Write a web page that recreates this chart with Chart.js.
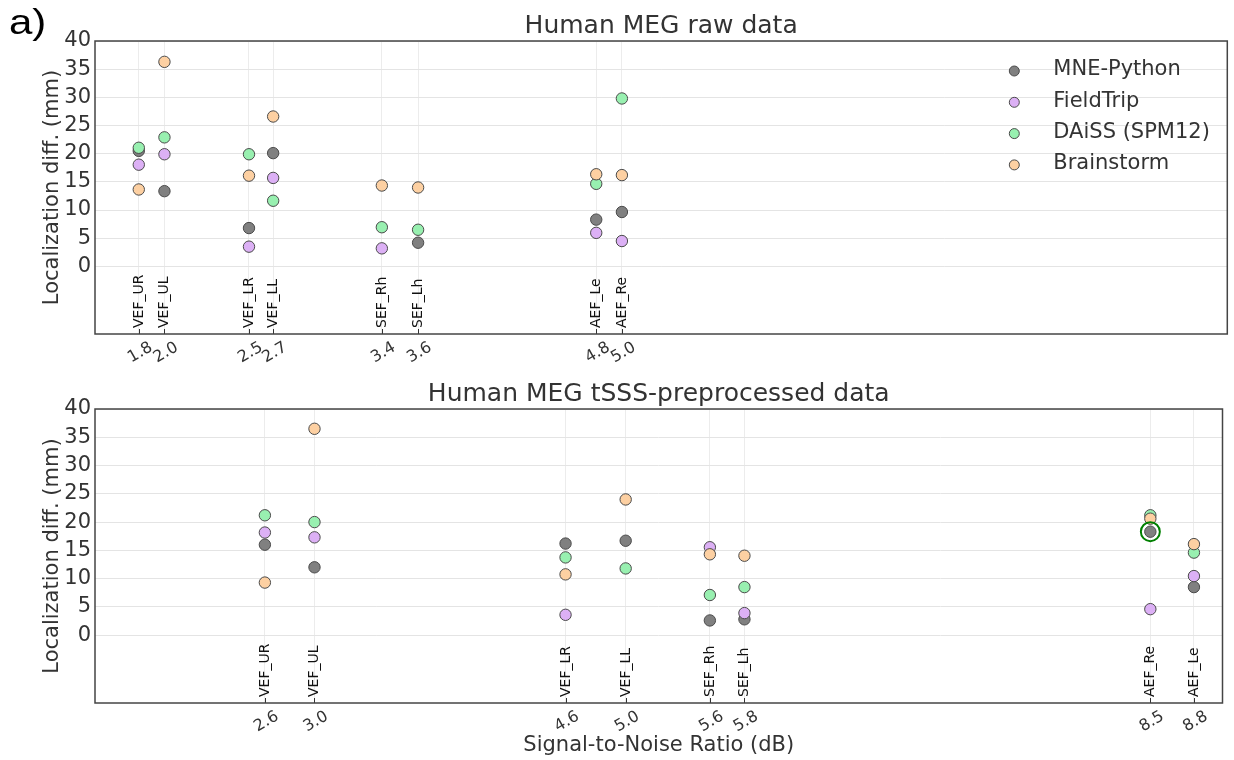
<!DOCTYPE html>
<html>
<head>
<meta charset="utf-8">
<script src="https://cdn.jsdelivr.net/npm/chart.js@4.4.0/dist/chart.umd.min.js"></script>
<style>
  body { margin: 0; background: #fff; }
  #wrap { position: relative; width: 1234px; height: 760px; }
  #panel { position: absolute; left: 9px; top: 4px; font: 35px "Liberation Sans", Arial, sans-serif; line-height: 1; color: #000; transform: scaleX(1.2); transform-origin: left top; }
  canvas { position: absolute; left: 0; }
  #rawChart { top: 0; }
  #tsssChart { top: 375px; }
</style>
</head>
<body>
<div id="wrap">
  <canvas id="rawChart" width="1234" height="375"></canvas>
  <canvas id="tsssChart" width="1234" height="385"></canvas>
  <div id="panel">a)</div>
</div>
<script>
// Méthodes et couleurs
const methods = ["MNE-Python", "FieldTrip", "DAiSS (SPM12)", "Brainstorm"];
const methodColors = ["#808080", "#dcb0f5", "#98f0b0", "#fdd0a2"];
const yTicks = [0, 5, 10, 15, 20, 25, 30, 35, 40];

// Données brutes
const rawConditions = ["VEF_UR", "VEF_UL", "VEF_LR", "VEF_LL", "SEF_Rh", "SEF_Lh", "AEF_Le", "AEF_Re"];
const rawSnr = [1.79, 1.96, 2.52, 2.68, 3.40, 3.64, 4.82, 4.99];
const rawSnrLabels = ["1.8", "2.0", "2.5", "2.7", "3.4", "3.6", "4.8", "5.0"];
const rawMne = [20.5, 13.35, 6.8, 20.1, null, 4.2, 8.3, 9.65];
const rawFieldTrip = [18.05, 19.9, 3.5, 15.7, 3.2, null, 5.95, 4.5];
const rawDaiss = [21.05, 22.9, 19.9, 11.65, 6.95, 6.5, 14.65, 29.8];
const rawBrainstorm = [13.65, 36.3, 16.1, 26.6, 14.35, 14.0, 16.35, 16.2];

// Données tSSS
const tsssConditions = ["VEF_UR", "VEF_UL", "VEF_LR", "VEF_LL", "SEF_Rh", "SEF_Lh", "AEF_Re", "AEF_Le"];
const tsssSnr = [2.63, 2.96, 4.63, 5.03, 5.59, 5.82, 8.52, 8.81];
const tsssSnrLabels = ["2.6", "3.0", "4.6", "5.0", "5.6", "5.8", "8.5", "8.8"];
const tsssMne = [16.0, 12.0, 16.2, 16.7, 2.6, 2.8, 18.3, 8.5];
const tsssFieldTrip = [18.15, 17.3, 3.6, null, 15.55, 3.9, 4.6, 10.45];
const tsssDaiss = [21.2, 20.0, 13.75, 11.8, 7.1, 8.5, 21.2, 14.6];
const tsssBrainstorm = [9.3, 36.5, 10.75, 24.0, 14.3, 14.05, 20.6, 16.1];
const tsssHighlight = 6; // AEF_Re entouré

Chart.defaults.font.family = "DejaVu Sans";
Chart.defaults.color = "#333";

function makeDatasets(snr, series) {
  return series.map((vals, i) => ({
    label: methods[i],
    data: vals.map((v, j) => ({ x: snr[j], y: v })).filter(p => p.y !== null),
    backgroundColor: methodColors[i],
    borderColor: "#4a4a4a",
    borderWidth: 1,
    pointRadius: 5.7,
    pointHoverRadius: 5.7,
    order: series.length - i
  }));
}

// Cadre, petites graduations internes et noms des conditions
const frameLabels = {
  id: "frameLabels",
  afterDraw(chart, args, opts) {
    const { ctx, chartArea } = chart;
    const xScale = chart.scales.x;
    ctx.save();
    ctx.strokeStyle = "#333";
    ctx.lineWidth = 1;
    ctx.fillStyle = "#111";
    ctx.font = '14px "DejaVu Sans"';
    ctx.textAlign = "left";
    ctx.textBaseline = "middle";
    opts.snr.forEach((v, i) => {
      const px = Math.round(xScale.getPixelForValue(v)) + 0.5;
      ctx.beginPath();
      ctx.moveTo(px, chartArea.bottom);
      ctx.lineTo(px, chartArea.bottom - 5);
      ctx.stroke();
      ctx.save();
      ctx.translate(px, chartArea.bottom - 6);
      ctx.rotate(-Math.PI / 2);
      ctx.fillText(opts.labels[i], 0, 0);
      ctx.restore();
    });
    ctx.strokeStyle = "#444";
    ctx.lineWidth = 1.5;
    ctx.strokeRect(chartArea.left, chartArea.top, chartArea.right - chartArea.left, chartArea.bottom - chartArea.top);
    ctx.restore();
  }
};

// Légende dans la zone du graphique
const methodLegend = {
  id: "methodLegend",
  afterDraw(chart) {
    const { ctx, chartArea } = chart;
    ctx.save();
    ctx.font = '21px "DejaVu Sans"';
    ctx.textBaseline = "middle";
    ctx.textAlign = "left";
    methods.forEach((name, i) => {
      const x = chartArea.right - 213;
      const y = chartArea.top + 30 + i * 31.3;
      ctx.beginPath();
      ctx.arc(x, y, 5, 0, 2 * Math.PI);
      ctx.fillStyle = methodColors[i];
      ctx.fill();
      ctx.strokeStyle = "#4a4a4a";
      ctx.lineWidth = 1;
      ctx.stroke();
      ctx.fillStyle = "#333";
      ctx.fillText(name, x + 39, y - 1);
    });
    ctx.restore();
  }
};

function makeOptions(cfg) {
  return {
    responsive: false,
    animation: false,
    devicePixelRatio: 1,
    layout: { padding: { left: 0, right: 1, top: 0, bottom: 0 } },
    plugins: {
      legend: { display: false },
      tooltip: { enabled: false },
      title: {
        display: true,
        text: cfg.title,
        fullSize: false,
        color: "#333",
        font: { size: 25, weight: "normal" },
        padding: cfg.titlePadding
      },
      frameLabels: { snr: cfg.snr, labels: cfg.conditions }
    },
    scales: {
      x: {
        type: "linear",
        min: 1.5,
        max: 9.0,
        afterBuildTicks: s => { s.ticks = cfg.snr.map(v => ({ value: v })); },
        afterFit: s => { s.height = cfg.xHeight; },
        ticks: {
          autoSkip: false,
          minRotation: 30,
          maxRotation: 30,
          labelOffset: 12.5,
          padding: 4,
          color: "#333",
          font: { size: 16 },
          callback: (v, i) => cfg.snrLabels[i]
        },
        grid: { color: "#ececec", drawTicks: false },
        border: { display: false },
        title: {
          display: cfg.xTitle,
          text: "Signal-to-Noise Ratio (dB)",
          color: "#333",
          font: { size: 21 },
          padding: { top: 0, bottom: 2 }
        }
      },
      y: {
        min: -12,
        max: 40,
        afterBuildTicks: s => { s.ticks = yTicks.map(v => ({ value: v })); },
        afterFit: s => { s.width = 95; },
        ticks: { color: "#333", font: { size: 21 }, padding: 4 },
        grid: { color: "#e4e4e4", drawTicks: false },
        border: { display: false },
        title: {
          display: true,
          text: "Localization diff. (mm)",
          color: "#333",
          font: { size: 21 },
          padding: { top: 40, bottom: 0 }
        }
      }
    }
  };
}

// Graphique des données brutes
new Chart(document.getElementById("rawChart"), {
  type: "scatter",
  data: { datasets: makeDatasets(rawSnr, [rawMne, rawFieldTrip, rawDaiss, rawBrainstorm]) },
  options: makeOptions({
    title: "Human MEG raw data",
    titlePadding: { top: 11, bottom: 0 },
    snr: rawSnr, snrLabels: rawSnrLabels, conditions: rawConditions,
    xHeight: 41, xTitle: false
  }),
  plugins: [frameLabels, methodLegend]
});

// Graphique des données tSSS
const tsssSets = makeDatasets(tsssSnr, [tsssMne, tsssFieldTrip, tsssDaiss, tsssBrainstorm]);
tsssSets.push({
  label: "highlight",
  data: [{ x: tsssSnr[tsssHighlight], y: tsssMne[tsssHighlight] }],
  backgroundColor: "rgba(0,0,0,0)",
  borderColor: "#008000",
  borderWidth: 2,
  pointRadius: 9.5,
  pointHoverRadius: 9.5,
  order: 0
});
new Chart(document.getElementById("tsssChart"), {
  type: "scatter",
  data: { datasets: tsssSets },
  options: makeOptions({
    title: "Human MEG tSSS-preprocessed data",
    titlePadding: { top: 4, bottom: 0 },
    snr: tsssSnr, snrLabels: tsssSnrLabels, conditions: tsssConditions,
    xHeight: 57, xTitle: true
  }),
  plugins: [frameLabels]
});
</script>
</body>
</html>
